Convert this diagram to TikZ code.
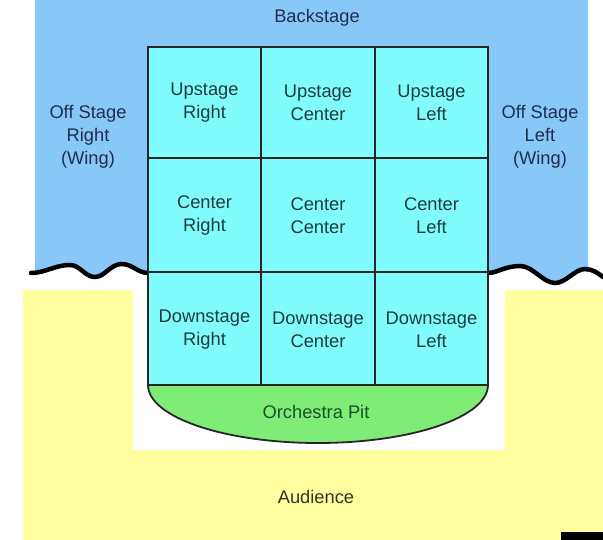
\documentclass[tikz,border=0pt]{standalone}
\usepackage{fontspec}
\setmainfont{Liberation Sans}
\definecolor{backblue}{RGB}{136,200,248}
\definecolor{stagecyan}{RGB}{128,252,252}
\definecolor{audyellow}{RGB}{255,255,160}
\definecolor{pitgreen}{RGB}{128,236,120}
\definecolor{celltext}{RGB}{30,60,60}
\definecolor{bluetext}{RGB}{30,45,80}
\definecolor{pittext}{RGB}{25,80,35}
\definecolor{audtext}{RGB}{50,50,40}
\begin{document}
\begin{tikzpicture}[x=1pt,y=-1pt,
  lbl/.style={align=center,font=\fontsize{18.3}{23}\selectfont,inner sep=0pt},
  cell/.style={lbl,text=celltext},
  grid/.style={draw=black!85,line width=1.8pt},
  wave/.style={draw=black,line width=4.5pt,line cap=round}]
\useasboundingbox (0,0) rectangle (603,540);
\fill[white] (0,0) rectangle (603,540);
% audience area
\fill[audyellow] (23,290) rectangle (603,540);
% backstage and wings, bounded below by the torn edges
\fill[backblue] (35,0) -- (588,0) -- (588,272)
  .. controls (575,266) and (566,283) .. (555,283)
  .. controls (543,283) and (533,266) .. (520,266)
  .. controls (505,266) and (497,273) .. (488,273)
  -- (148,273)
  .. controls (138,273) and (132,264) .. (122,264)
  .. controls (110,264) and (105,277) .. (95,277)
  .. controls (85,277) and (80,265) .. (70,265)
  .. controls (55,265) and (45,273) .. (35,273) -- cycle;
% clear space round the stage front
\fill[white] (133,273) rectangle (505,450);
% torn edges
\draw[wave] (31,273) .. controls (45,273) and (55,265) .. (70,265)
  .. controls (80,265) and (85,277) .. (95,277)
  .. controls (105,277) and (110,264) .. (122,264)
  .. controls (132,264) and (138,273) .. (148,273);
\draw[wave] (488,273) .. controls (497,273) and (505,266) .. (520,266)
  .. controls (533,266) and (543,283) .. (555,283)
  .. controls (566,283) and (575,269) .. (585,269)
  .. controls (592,269) and (598,273) .. (603,277);
% orchestra pit
\filldraw[fill=pitgreen,draw=black!85,line width=1.8pt]
  (148,385) arc[start angle=180,end angle=0,x radius=170,y radius=58] -- cycle;
% stage grid
\fill[stagecyan] (148,47) rectangle (488,385);
\draw[grid] (148,47) rectangle (488,385);
\draw[grid] (261,47) -- (261,385);
\draw[grid] (375,47) -- (375,385);
\draw[grid] (148,158) -- (488,158);
\draw[grid] (148,272) -- (488,272);
% labels
\node[lbl,text=bluetext] (back) at (317,18) {Backstage};
\node[lbl,text=bluetext] (osr) at (88,137) {Off Stage\\Right\\(Wing)};
\node[lbl,text=bluetext] (osl) at (540,137) {Off Stage\\Left\\(Wing)};
\node[cell] (ur) at (204.5,102.5) {Upstage\\Right};
\node[cell] (uc) at (318,102.5) {Upstage\\Center};
\node[cell] (ul) at (431.5,102.5) {Upstage\\Left};
\node[cell] (cr) at (204.5,215.5) {Center\\Right};
\node[cell] (cc) at (318,215.5) {Center\\Center};
\node[cell] (cl) at (431.5,215.5) {Center\\Left};
\node[cell] (dr) at (204.5,329.5) {Downstage\\Right};
\node[cell] (dc) at (318,329.5) {Downstage\\Center};
\node[cell] (dl) at (431.5,329.5) {Downstage\\Left};
\node[lbl,text=pittext] (pit) at (316,412) {Orchestra Pit};
\node[lbl,text=audtext] (aud) at (316,497) {Audience};
% corner mark
\fill[black] (561,532) rectangle (603,540);
\end{tikzpicture}
\end{document}
